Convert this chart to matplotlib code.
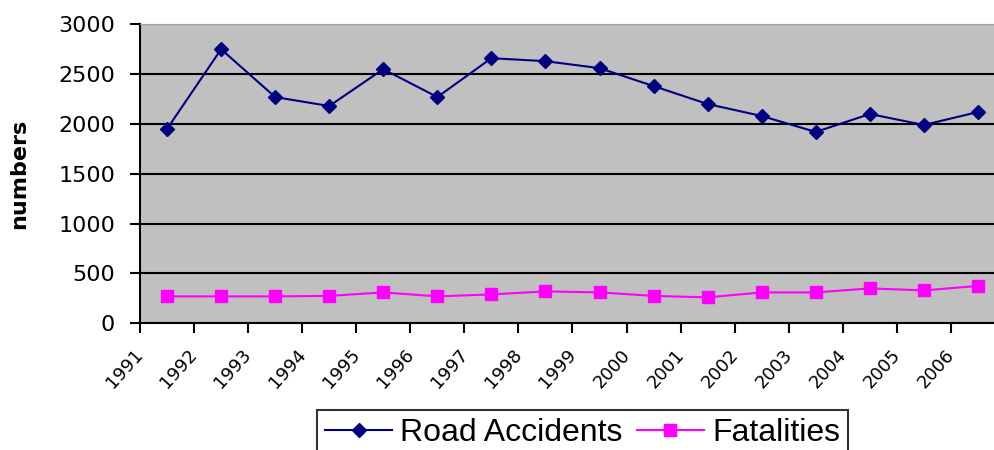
import matplotlib.pyplot as plt
import matplotlib.transforms as mtransforms
import numpy as np

years = ['1991', '1992', '1993', '1994', '1995', '1996', '1997', '1998',
         '1999', '2000', '2001', '2002', '2003', '2004', '2005', '2006']
road_accidents = [1950, 2750, 2270, 2180, 2550, 2270, 2660, 2630,
                  2560, 2380, 2200, 2080, 1920, 2100, 1990, 2120]
fatalities = [270, 270, 270, 275, 310, 270, 290, 320,
              310, 275, 260, 310, 310, 350, 330, 375]

plt.rcParams['font.family'] = ['DejaVu Sans']

fig = plt.figure(figsize=(9.95, 4.5), dpi=100)
# plot area runs a little past the right edge, like the cropped original
ax = fig.add_axes([140 / 995, 126.7 / 450, 865 / 995, 299 / 450])
ax.set_facecolor('#c0c0c0')

x = np.arange(len(years))
ax.plot(x, road_accidents, color='#000080', lw=1.5, marker='D', ms=7,
        label='Road Accidents', zorder=3)
ax.plot(x, fatalities, color='#ff00ff', lw=1.5, marker='s', ms=9,
        label='Fatalities', zorder=3)

# axes and grid
ax.set_xlim(-0.5, len(years) - 0.5)
ax.set_ylim(0, 3000)
ax.set_yticks(range(0, 3001, 500))
ax.yaxis.grid(True, color='black', lw=1.5)
ax.set_axisbelow(True)
for s in ['left', 'bottom']:
    ax.spines[s].set_linewidth(1.5)
ax.spines['top'].set_color('#a0a0a0')
ax.spines['right'].set_visible(False)

ax.tick_params(axis='y', length=7, width=1.5, pad=11, labelsize=16)
ax.set_xticks(x)
ax.set_xticklabels(years, rotation=48, ha='right', fontsize=13)
ax.set_xticks(np.arange(-0.5, len(years), 1), minor=True)
ax.tick_params(axis='x', which='major', length=0, pad=16)
ax.tick_params(axis='x', which='minor', length=7, width=1.5)
shift = mtransforms.ScaledTranslation(-20 / 100, 0, fig.dpi_scale_trans)
for lbl in ax.get_xticklabels():
    lbl.set_transform(lbl.get_transform() + shift)

ax.set_ylabel('numbers', fontsize=16, fontweight='bold')
ax.yaxis.set_label_coords(-111 / 865, 0.5)

leg = fig.legend(loc='upper center', bbox_to_anchor=(0.5854, 0.0889), ncol=2,
                 prop={'family': 'Liberation Sans', 'size': 23},
                 frameon=True, fancybox=False, edgecolor='black',
                 handlelength=2.1, columnspacing=0.45, borderpad=0.25,
                 handletextpad=0.25, borderaxespad=0)
leg.get_frame().set_linewidth(1.5)

plt.savefig('out.png', dpi=100)
